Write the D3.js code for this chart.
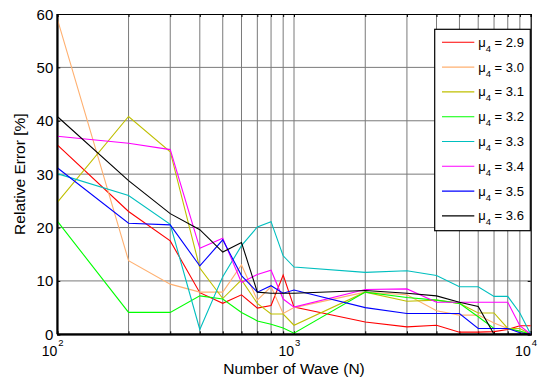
<!DOCTYPE html>
<html>
<head>
<meta charset="utf-8">
<script src="https://cdn.jsdelivr.net/npm/d3@7"></script>
<style>
  body { margin: 0; background: #fff; }
  svg { font-family: "Liberation Sans", Arial, sans-serif; }
</style>
</head>
<body>
<svg id="chart" width="540" height="378"></svg>
<script>
// data
const waveN = [100, 200, 300, 400, 500, 600, 700, 800, 900, 1000,
               2000, 3000, 4000, 5000, 6000, 7000, 8000, 9000, 10000];

const err29 = [35.5, 23.0, 17.5, 7.8, 5.8, 7.4, 4.9, 5.4, 11.1, 5.1, 2.3, 1.4, 1.7, 0.4, 0.4, 0.5, 0.9, 1.6, 1.6];
const err30 = [59.1, 13.8, 9.4, 7.9, 7.9, 13.0, 6.4, 8.9, 3.9, 5.0, 7.9, 7.4, 4.4, 3.6, 3.6, 2.1, 1.1, 0.5, 0.0];
const err31 = [24.7, 40.8, 34.2, 12.4, 6.7, 10.2, 5.8, 3.8, 3.8, 1.7, 7.9, 6.2, 6.4, 5.8, 4.0, 4.0, 1.1, 1.1, 0.0];
const err32 = [21.2, 4.1, 4.1, 7.2, 6.6, 4.1, 2.5, 1.9, 1.2, 0.2, 7.9, 6.9, 6.4, 5.8, 3.3, 1.1, 1.1, 0.6, 0.0];
const err33 = [30.1, 26.0, 20.6, 0.9, 10.8, 16.6, 20.1, 21.1, 14.7, 12.6, 11.6, 11.9, 11.0, 8.9, 8.9, 7.1, 7.1, 4.0, 0.0];
const err34 = [37.1, 35.8, 34.6, 16.1, 18.0, 9.7, 11.2, 12.0, 6.6, 5.1, 8.4, 8.5, 6.0, 6.0, 6.0, 6.0, 6.0, 1.6, 0.0];
const err35 = [31.2, 20.8, 20.5, 12.8, 17.7, 11.0, 7.9, 9.1, 7.7, 8.3, 5.0, 3.9, 3.9, 3.9, 1.1, 1.1, 1.1, 0.3, 0.0];
const err36 = [40.8, 28.8, 22.6, 19.6, 15.4, 17.2, 7.9, 7.7, 7.7, 7.7, 8.2, 7.7, 7.2, 6.0, 5.2, 0.0, 0.0, 0.0, 0.0];

const muLabels = ["2.9", "3.0", "3.1", "3.2", "3.3", "3.4", "3.5", "3.6"];
const allErrors = [err29, err30, err31, err32, err33, err34, err35, err36];
const lineColors = ["#ff0000", "#ffb070", "#bfbf00", "#00ff00", "#00bfbf", "#ff00ff", "#0000ff", "#000000"];

const yTicks = [0, 10, 20, 30, 40, 50, 60];
const decades = [100, 1000, 10000];

// layout
const svg = d3.select("#chart");
const W = +svg.attr("width"), H = +svg.attr("height");
const margin = { top: 14, right: 9.3, bottom: 43.7, left: 57.3 };
const iw = W - margin.left - margin.right;
const ih = H - margin.top - margin.bottom;

const g = svg.append("g").attr("transform", `translate(${margin.left},${margin.top})`);

const x = d3.scaleLog().domain([100, 10000]).range([0, iw]);
const y = d3.scaleLinear().domain([0, 60]).range([ih, 0]);

// grid: all minor positions on the log axis
const gridX = [];
[100, 1000].forEach(d => { for (let k = 1; k <= 9; k++) gridX.push(d * k); });
gridX.push(10000);

g.append("g")
    .selectAll("line")
    .data(gridX.filter(v => v > 100 && v < 10000))
    .join("line")
    .attr("x1", d => x(d)).attr("x2", d => x(d))
    .attr("y1", 0).attr("y2", ih)
    .attr("stroke", "#7a7a7a")
    .attr("stroke-width", 1);

g.append("g")
    .selectAll("line")
    .data(yTicks.filter(v => v > 0 && v < 60))
    .join("line")
    .attr("x1", 0).attr("x2", iw)
    .attr("y1", d => y(d)).attr("y2", d => y(d))
    .attr("stroke", "#7a7a7a")
    .attr("stroke-width", 1);

// axes with inward ticks
const xAxisB = d3.axisBottom(x).tickValues(gridX).tickSize(-3).tickFormat("");
const xAxisT = d3.axisTop(x).tickValues(gridX).tickSize(-3).tickFormat("");
const yAxisL = d3.axisLeft(y).tickValues(yTicks).tickSize(-3).tickFormat("");
const yAxisR = d3.axisRight(y).tickValues(yTicks).tickSize(-3).tickFormat("");

g.append("g").attr("transform", `translate(0,${ih})`).call(xAxisB);
g.append("g").call(xAxisT);
g.append("g").call(yAxisL);
g.append("g").attr("transform", `translate(${iw},0)`).call(yAxisR);
g.selectAll(".domain").attr("stroke", "#000").attr("stroke-width", 1.2);
g.selectAll(".tick line").attr("stroke", "#000");

// series
const line = d3.line().x((d, i) => x(waveN[i])).y(d => y(d));
g.append("g")
    .selectAll("path")
    .data(allErrors)
    .join("path")
    .attr("d", line)
    .attr("fill", "none")
    .attr("stroke", (d, i) => lineColors[i])
    .attr("stroke-width", 1.1);

// thicker left/bottom box edges on top of lines
g.append("line").attr("x1", 0).attr("x2", iw).attr("y1", ih).attr("y2", ih)
    .attr("stroke", "#000").attr("stroke-width", 2);
g.append("line").attr("x1", 0).attr("x2", 0).attr("y1", 0).attr("y2", ih)
    .attr("stroke", "#000").attr("stroke-width", 2);

// tick labels
g.append("g")
    .selectAll("text")
    .data(yTicks)
    .join("text")
    .attr("x", -4)
    .attr("y", d => y(d) + 5.5)
    .attr("text-anchor", "end")
    .attr("font-size", 15)
    .text(d => d);

const xl = g.append("g")
    .selectAll("g")
    .data(decades)
    .join("g")
    .attr("transform", d => `translate(${x(d)},${ih + 22})`);
xl.append("text")
    .attr("text-anchor", "end")
    .attr("font-size", 14)
    .text("10");
xl.append("text")
    .attr("x", 1)
    .attr("y", -10)
    .attr("font-size", 9.5)
    .text(d => Math.round(Math.log10(d)));

// axis titles
g.append("text")
    .attr("x", iw / 2)
    .attr("y", ih + 39.5)
    .attr("text-anchor", "middle")
    .attr("font-size", 15.5)
    .text("Number of Wave (N)");

g.append("text")
    .attr("transform", "rotate(-90)")
    .attr("x", -ih / 2)
    .attr("y", -32)
    .attr("text-anchor", "middle")
    .attr("font-size", 15.5)
    .text("Relative Error [%]");

// legend
const lgX = 434.7 - margin.left, lgY = 29.3 - margin.top;
const lgW = 95.6, lgH = 201.4;
const lg = g.append("g").attr("transform", `translate(${lgX},${lgY})`);
lg.append("rect")
    .attr("width", lgW).attr("height", lgH)
    .attr("fill", "#fff").attr("stroke", "#000").attr("stroke-width", 1.2);

const items = lg.selectAll("g.item")
    .data(muLabels)
    .join("g")
    .attr("class", "item")
    .attr("transform", (d, i) => `translate(0,${13 + i * 24.8})`);
items.append("line")
    .attr("x1", 7.3).attr("x2", 39.6)
    .attr("stroke", (d, i) => lineColors[i])
    .attr("stroke-width", 1.1);
const lt = items.append("text")
    .attr("x", 43.5)
    .attr("y", 4.5)
    .attr("font-size", 13);
lt.append("tspan").text("μ");
lt.append("tspan").attr("font-size", 9.5).attr("dy", 5).text("4");
lt.append("tspan").attr("dy", -5).text(d => " = " + d);
</script>
</body>
</html>
